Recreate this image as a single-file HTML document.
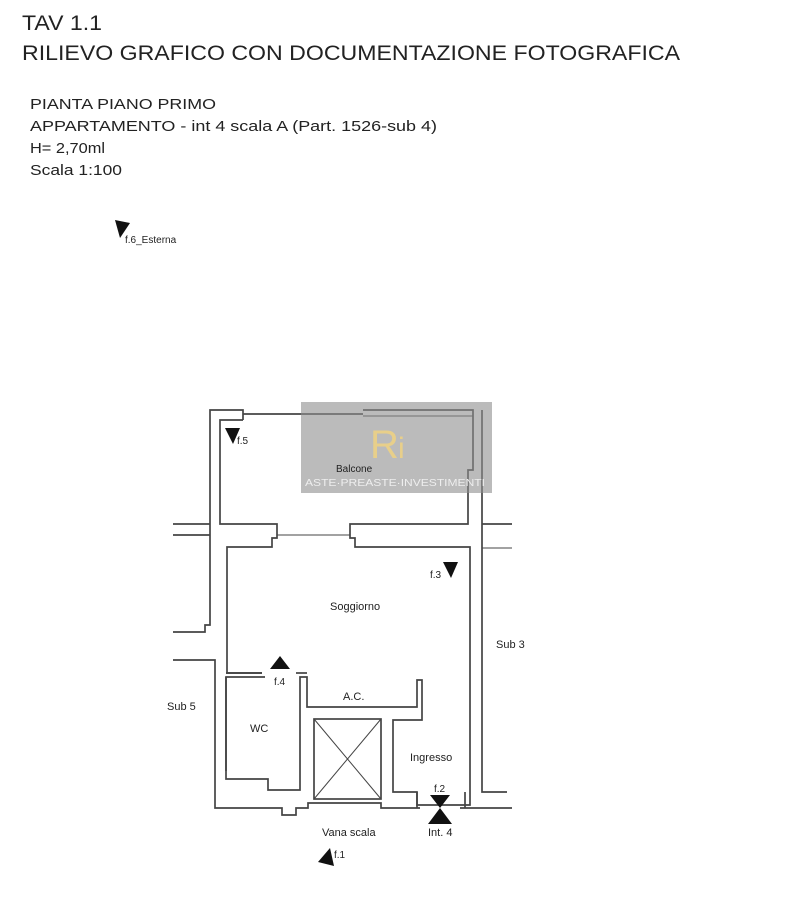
<!DOCTYPE html>
<html><head><meta charset="utf-8"><style>
html,body{margin:0;padding:0;background:#fff;}
svg{display:block;}
text{font-family:"Liberation Sans",sans-serif;fill:#222;}
</style></head><body>
<svg width="802" height="900" viewBox="0 0 802 900" xmlns="http://www.w3.org/2000/svg">
<text x="22" y="30" font-size="21" textLength="80" lengthAdjust="spacingAndGlyphs">TAV 1.1</text>
<text x="22" y="60" font-size="21" textLength="658" lengthAdjust="spacingAndGlyphs">RILIEVO GRAFICO CON DOCUMENTAZIONE FOTOGRAFICA</text>
<text x="30" y="109" font-size="15" textLength="186" lengthAdjust="spacingAndGlyphs">PIANTA PIANO PRIMO</text>
<text x="30" y="131" font-size="15" textLength="407" lengthAdjust="spacingAndGlyphs">APPARTAMENTO - int 4 scala A (Part. 1526-sub 4)</text>
<text x="30" y="153" font-size="15" textLength="75" lengthAdjust="spacingAndGlyphs">H= 2,70ml</text>
<text x="30" y="175" font-size="15" textLength="92" lengthAdjust="spacingAndGlyphs">Scala 1:100</text>

<polygon points="115,220 130,223 120,238" fill="#111"/>
<text x="125" y="243" font-size="10">f.6_Esterna</text>

<g fill="none" stroke="#444" stroke-width="1.7">
<polyline points="173,524 210,524"/>
<polyline points="173,535 210,535"/>
<polyline points="243,420 243,410 210,410 210,625 205,625 205,632 173,632"/>
<polyline points="243,420 220,420 220,524 277,524 277,538 272,538 272,547 227,547 227,673 262,673"/>
<polyline points="243,414 363,414"/>
<polyline points="363,410 473,410 473,470 468,470 468,524 350,524 350,538 355,538 355,547 470,547 470,792"/>
<polyline points="363,416 473,416" stroke-width="1"/>
<polyline points="277,535 350,535" stroke-width="1"/>
<polyline points="482,410 482,792 507,792"/>
<polyline points="482,524 512,524"/>
<polyline points="482,548 512,548" stroke-width="1"/>
<polyline points="173,660 215,660 215,808 282,808 282,815 296,815 296,808 308,808 308,803 314,803"/>
<polyline points="226,771 226,677 265,677"/>
<polyline points="226,677 226,779 268,779 268,790 300,790 300,677 307,677 307,707 417,707 417,680 422,680 422,720 393,720 393,792 417,792 417,805 470,805 470,792"/>
<polyline points="226,673 262,673" />
<polyline points="296,673 307,673"/>
<rect x="314" y="719" width="67" height="80"/>
<line x1="314" y1="719" x2="381" y2="799" stroke-width="1"/>
<line x1="381" y1="719" x2="314" y2="799" stroke-width="1"/>
<polyline points="314,803 381,803 381,808 420,808"/>
<polyline points="460,808 512,808"/>
<polyline points="417,792 417,808"/>
<polyline points="465,792 465,808"/>
</g>
<rect x="301" y="402" width="191" height="91" fill="#8e8e8e" opacity="0.6"/>
<text x="370" y="458" font-size="40" style="fill:#e8cf8a" font-family="Liberation Serif">R</text>
<text x="398" y="458" font-size="30" style="fill:#e8cf8a" font-family="Liberation Serif">i</text>
<text x="305" y="486" font-size="10" style="fill:#eee" font-family="Liberation Serif" textLength="180" lengthAdjust="spacingAndGlyphs">ASTE·PREASTE·INVESTIMENTI</text>
<text x="336" y="472" font-size="10">Balcone</text>

<polygon points="225,428 240,428 233,444" fill="#111"/><text x="237" y="444" font-size="10">f.5</text>
<polygon points="443,562 458,562 451,578" fill="#111"/><text x="430" y="578" font-size="10">f.3</text>
<polygon points="280,656 270,669 290,669" fill="#111"/><text x="274" y="685" font-size="10">f.4</text>
<polygon points="430,795 450,795 440,808" fill="#111"/>
<polygon points="440,808 428,824 452,824" fill="#111"/>
<text x="434" y="792" font-size="10">f.2</text>
<polygon points="318,862 330,848 334,866" fill="#111"/><text x="334" y="858" font-size="10">f.1</text>

<text x="330" y="610" font-size="11">Soggiorno</text>
<text x="496" y="648" font-size="11">Sub 3</text>
<text x="167" y="710" font-size="11">Sub 5</text>
<text x="343" y="700" font-size="11">A.C.</text>
<text x="250" y="732" font-size="11">WC</text>
<text x="410" y="761" font-size="11">Ingresso</text>
<text x="322" y="836" font-size="11">Vana scala</text>
<text x="428" y="836" font-size="11">Int. 4</text>
</svg>
</body></html>
